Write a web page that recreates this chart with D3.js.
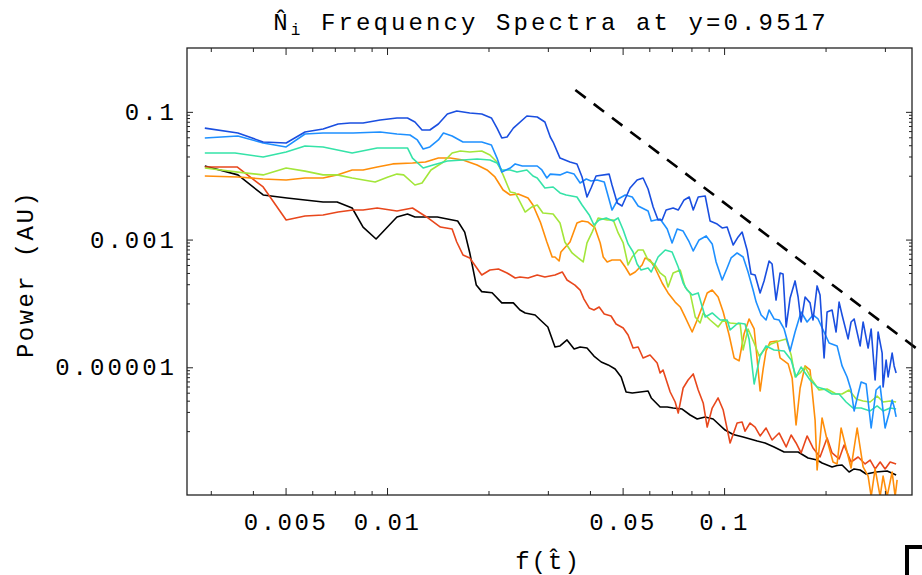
<!doctype html>
<html>
<head>
<script src="https://cdn.jsdelivr.net/npm/d3@7"></script>
<style>
  body { margin: 0; background: #fff; }
  text { font-family: "Liberation Mono", "DejaVu Sans Mono", monospace; }
</style>
</head>
<body>
<div id="chart"></div>
<script>
// spectra: frequency f and power P for every curve
var fBlack = [0.00288,0.00361,0.00429,0.00505,0.00646,0.00711,0.00788,0.00849,0.00928,0.0107,0.0115,0.0121,0.0141,0.0151,0.0162,0.0170,0.0176,0.0184,0.0191,0.0205,0.0219,0.0237,0.0248,0.0257,0.0275,0.0285,0.0300,0.0315,0.0326,0.0342,0.0359,0.0374,0.0392,0.0411,0.0432,0.0453,0.0475,0.0495,0.0512,0.0534,0.0564,0.0595,0.0608,0.0646,0.0678,0.0706,0.0751,0.0793,0.0832,0.0879,0.0928,0.1007,0.1064,0.1139,0.1254,0.1323,0.1407,0.1507,0.1658,0.1775,0.1888,0.1953,0.2091,0.2164,0.2239,0.2349,0.2431,0.2533,0.2639,0.2825,0.3046,0.3239];
var pBlack = [0.0142,0.0103,0.00499,0.00448,0.00388,0.00388,0.00312,0.00157,0.00102,0.00226,0.00252,0.00226,0.00226,0.0021,0.00195,0.00131,6.17e-4,1.94e-4,1.53e-4,1.47e-4,1.02e-4,1.02e-4,7.9e-5,7.09e-5,6.6e-5,5.5e-5,4.28e-5,2.08e-5,2.16e-5,2.68e-5,1.93e-5,2.08e-5,2.0e-5,1.5e-5,1.21e-5,1.09e-5,9.41e-6,7.05e-6,4.1e-6,3.96e-6,4.1e-6,4.25e-6,3.31e-6,2.39e-6,2.39e-6,2.3e-6,2.22e-6,1.79e-6,1.55e-6,1.67e-6,1.55e-6,1.04e-6,8.87e-7,8.1e-7,7.0e-7,6.53e-7,5.65e-7,4.72e-7,4.72e-7,3.8e-7,3.53e-7,3.17e-7,2.75e-7,2.9e-7,2.95e-7,2.29e-7,2.56e-7,2.46e-7,2.13e-7,2.29e-7,2.38e-7,2.06e-7];

var fRed = [0.00288,0.00359,0.00429,0.00502,0.00571,0.00646,0.00716,0.00793,0.00849,0.00935,0.0107,0.0119,0.0131,0.0144,0.0156,0.0161,0.0168,0.0176,0.0182,0.0191,0.0202,0.0214,0.0227,0.0240,0.0248,0.0262,0.0279,0.0294,0.0315,0.0331,0.0342,0.0361,0.0374,0.0384,0.0398,0.0411,0.0426,0.0441,0.0462,0.0478,0.0502,0.0519,0.0537,0.0556,0.0575,0.0603,0.0633,0.0646,0.0659,0.0692,0.0716,0.0731,0.0756,0.0782,0.0810,0.0838,0.0867,0.0891,0.0922,0.0960,0.0994,0.1042,0.1093,0.1131,0.1154,0.1194,0.1236,0.1279,0.1332,0.1388,0.1456,0.1528,0.1581,0.1635,0.1692,0.1763,0.1836,0.1926,0.2021,0.2091,0.2194,0.227,0.2381,0.2499,0.2621,0.2712,0.2806,0.2904,0.3004,0.3109,0.3239];
var pRed = [0.0137,0.0137,0.00666,0.00203,0.00234,0.00243,0.0027,0.0029,0.0029,0.00312,0.0028,0.00312,0.00226,0.00157,0.00146,9.17e-4,5.74e-4,5.15e-4,4.0e-4,2.79e-4,3.34e-4,3.46e-4,3.0e-4,2.5e-4,2.6e-4,2.5e-4,2.79e-4,2.6e-4,2.79e-4,3.11e-4,2.33e-4,1.94e-4,1.62e-4,1.17e-4,8.49e-5,7.9e-5,8.8e-5,6.84e-5,6.36e-5,4.77e-5,4.13e-5,3.2e-5,2.0e-5,2.08e-5,1.4e-5,1.56e-5,1.17e-5,8.15e-6,9.08e-6,4.1e-6,2.86e-6,1.92e-6,4.74e-6,6.33e-6,7.86e-6,4.41e-6,2.76e-6,1.16e-6,2.3e-6,3.31e-6,2.14e-6,6.53e-7,1.34e-6,1.39e-6,1.0e-6,1.34e-6,1.16e-6,8.4e-7,1.12e-6,7.27e-7,9.36e-7,5.65e-7,8.71e-7,6.53e-7,4.55e-7,8.4e-7,5.45e-7,3.94e-7,7.82e-7,4.55e-7,3.67e-7,6.07e-7,3.29e-7,3.94e-7,3.06e-7,3.53e-7,2.56e-7,3.29e-7,2.56e-7,3.29e-7,3.06e-7];

var fOrange = [0.00288,0.00361,0.00429,0.00502,0.00571,0.00646,0.00711,0.00788,0.00849,0.00935,0.0104,0.0119,0.0130,0.0142,0.0154,0.0168,0.0185,0.0198,0.0209,0.0221,0.0232,0.0245,0.0262,0.0271,0.0285,0.0298,0.0309,0.0315,0.0324,0.0328,0.0349,0.0366,0.0379,0.0395,0.0414,0.0429,0.0438,0.0450,0.0465,0.0492,0.0509,0.0526,0.0545,0.0571,0.0583,0.0603,0.0624,0.0655,0.0682,0.0716,0.0741,0.0766,0.0804,0.0832,0.0861,0.0891,0.0922,0.0960,0.0994,0.1035,0.1071,0.1108,0.1146,0.1186,0.1228,0.1254,0.1279,0.1306,0.1332,0.1369,0.1436,0.1466,0.1549,0.1592,0.1635,0.1681,0.1739,0.1799,0.1862,0.1888,0.1953,0.2021,0.2105,0.2164,0.2224,0.2301,0.2381,0.2482,0.2585,0.2675,0.2731,0.2806,0.2904,0.2963,0.3046,0.3152,0.3217,0.3261];
var pOrange = [0.0099,0.00956,0.00889,0.00858,0.00922,0.00922,0.0103,0.0123,0.0123,0.0137,0.0153,0.0158,0.0164,0.0189,0.0189,0.0176,0.0147,0.0123,0.00956,0.00598,0.00499,0.00517,0.00448,0.00348,0.00188,9.17e-4,5.34e-4,5.34e-4,4.62e-4,6.39e-4,9.17e-4,0.00182,0.00195,0.00188,0.00152,8.85e-4,5.34e-4,4.46e-4,4.79e-4,4.79e-4,3.72e-4,2.79e-4,3.11e-4,4.0e-4,5.15e-4,4.79e-4,3.59e-4,2.09e-4,1.46e-4,1.05e-4,8.8e-5,6.14e-5,3.57e-5,5.5e-5,8.8e-5,1.46e-4,1.62e-4,1.26e-4,7.35e-5,3.2e-5,1.4e-5,1.26e-5,3.32e-5,5.71e-5,3.98e-5,1.3e-5,4.25e-6,9.41e-6,1.8e-5,2.49e-5,2.58e-5,1.4e-5,1.13e-5,6.8e-6,1.25e-6,4.74e-6,1.05e-5,9.08e-6,1.49e-6,2.46e-7,1.61e-6,7.27e-7,3.29e-7,3.06e-7,1.12e-6,5.45e-7,2.65e-7,1.12e-6,2.75e-7,1.98e-7,9.5e-8,2.56e-7,9.5e-8,1.98e-7,9.5e-8,2.29e-7,9.5e-8,1.72e-7];

var fGreen = [0.00288,0.00361,0.00429,0.00502,0.00571,0.00646,0.00711,0.00788,0.00922,0.01007,0.0107,0.0112,0.0121,0.0127,0.0135,0.0147,0.0156,0.0165,0.0176,0.0191,0.0202,0.0212,0.0221,0.0232,0.0240,0.0248,0.0257,0.0269,0.0279,0.0290,0.0311,0.0326,0.0337,0.0354,0.0369,0.0382,0.0392,0.0406,0.0423,0.0450,0.0469,0.0485,0.0502,0.0519,0.0534,0.0556,0.0575,0.0595,0.0624,0.0646,0.0669,0.0682,0.0706,0.0741,0.0766,0.0793,0.0821,0.0849,0.0867,0.0909,0.0960,0.0994,0.1042,0.1116,0.1139,0.1178,0.1228,0.1271,0.1314,0.1378,0.1456,0.1528,0.1581,0.1624,0.1681,0.1739,0.1824,0.1913,0.2021,0.2149,0.2239,0.2349,0.2465,0.2585,0.2712,0.2845,0.2963,0.3109,0.3239];
var pGreen = [0.0132,0.0114,0.0103,0.0132,0.0118,0.0103,0.0103,0.00922,0.00798,0.00956,0.0106,0.0103,0.00716,0.0077,0.0123,0.0164,0.0227,0.0244,0.0235,0.0244,0.0211,0.0164,0.0103,0.00556,0.00537,0.00388,0.0027,0.00324,0.00348,0.00261,0.00252,0.00182,9.17e-4,6.17e-4,5.15e-4,4.46e-4,8.85e-4,0.00131,0.00218,0.00203,0.00203,0.00127,8.85e-4,4.0e-4,5.34e-4,6.87e-4,6.87e-4,4.79e-4,4.0e-4,3.0e-4,2.6e-4,1.81e-4,3.0e-4,3.34e-4,1.81e-4,1.46e-4,6.14e-5,4.94e-5,7.09e-5,5.5e-5,4.28e-5,5.5e-5,4.94e-5,4.77e-5,1.87e-5,3.98e-5,2.4e-5,1.5e-5,1.87e-5,2.32e-5,2.58e-5,2.78e-5,1.56e-5,7.05e-6,8.15e-6,1.01e-5,6.33e-6,4.41e-6,4.57e-6,3.82e-6,3.82e-6,4.41e-6,3.19e-6,2.97e-6,2.86e-6,3.55e-6,2.86e-6,2.97e-6,2.86e-6];

var fAqua = [0.00288,0.00354,0.00429,0.00502,0.00571,0.00646,0.00788,0.00935,0.0115,0.0119,0.0128,0.0137,0.0151,0.0168,0.0185,0.0202,0.0212,0.0219,0.0232,0.0243,0.0260,0.0271,0.0279,0.0294,0.0311,0.0326,0.0340,0.0366,0.0379,0.0398,0.0411,0.0426,0.0447,0.0469,0.0485,0.0502,0.0519,0.0537,0.0552,0.0567,0.0595,0.0608,0.0637,0.0669,0.0701,0.0731,0.0756,0.0777,0.0804,0.0838,0.0879,0.0922,0.0974,0.1021,0.1042,0.1101,0.1154,0.1186,0.1228,0.1279,0.1332,0.1407,0.1507,0.1581,0.1635,0.1692,0.1799,0.1888,0.198,0.2091,0.2194,0.2301,0.2414,0.255,0.2712,0.2845,0.2963,0.3109,0.3239];
var pAqua = [0.0227,0.0227,0.0196,0.0235,0.0292,0.0282,0.0227,0.0272,0.0272,0.0189,0.0132,0.0147,0.017,0.0176,0.0183,0.0176,0.0158,0.0123,0.0123,0.0114,0.0123,0.0099,0.00922,0.00642,0.00666,0.00537,0.00499,0.00464,0.00348,0.00243,0.00169,0.00203,0.00218,0.00195,0.00218,0.00141,8.54e-4,6.39e-4,4.15e-4,3.34e-4,3.59e-4,3.11e-4,5.34e-4,6.87e-4,6.39e-4,3.72e-4,2.09e-4,1.62e-4,1.36e-4,1.46e-4,6.14e-5,7.09e-5,5.5e-5,5.5e-5,3.84e-5,4.94e-5,4.77e-5,2.78e-5,5.48e-6,1.5e-5,2.16e-5,1.87e-5,1.8e-5,1.3e-5,7.05e-6,1.01e-5,6.33e-6,4.92e-6,4.57e-6,3.82e-6,3.82e-6,2.86e-6,2.3e-6,2.3e-6,2.07e-6,2.48e-6,2.07e-6,2.3e-6,2.22e-6];

var fSky = [0.00288,0.00361,0.00429,0.00502,0.00571,0.00646,0.00793,0.00954,0.0107,0.0117,0.0123,0.0128,0.0134,0.0142,0.0147,0.0156,0.0168,0.0191,0.0204,0.0212,0.0219,0.0232,0.0240,0.0252,0.0279,0.0288,0.0298,0.0305,0.0326,0.0342,0.0359,0.0374,0.0390,0.0403,0.0420,0.0441,0.0465,0.0485,0.0509,0.0534,0.0556,0.0595,0.0608,0.0646,0.0678,0.0701,0.0726,0.0756,0.0788,0.0810,0.0843,0.0885,0.0922,0.0947,0.0987,0.1021,0.1049,0.1093,0.1139,0.1178,0.1219,0.1245,0.1288,0.1332,0.136,0.1407,0.1456,0.1507,0.157,0.1624,0.1692,0.1763,0.1836,0.19,0.198,0.2049,0.2164,0.2239,0.2317,0.2381,0.2431,0.2499,0.255,0.2639,0.2731,0.2825,0.2904,0.3004,0.3088,0.3152,0.3195,0.3239];
var pSky = [0.039,0.0419,0.0325,0.0282,0.045,0.0467,0.0467,0.0484,0.045,0.0434,0.0363,0.0262,0.0282,0.0363,0.0467,0.0419,0.0337,0.0337,0.0303,0.0189,0.0114,0.0132,0.0153,0.0142,0.0142,0.0123,0.00922,0.0106,0.0103,0.0114,0.0106,0.0077,0.00889,0.00827,0.00858,0.00798,0.0029,0.00432,0.00499,0.00464,0.00336,0.0028,0.00195,0.0021,0.00146,8.85e-4,0.00146,0.00136,9.17e-4,6.63e-4,9.86e-4,0.00114,8.54e-4,4.46e-4,2.33e-4,3.59e-4,5.15e-4,6.17e-4,5.34e-4,3.11e-4,1.62e-4,1.05e-4,6.6e-5,5.5e-5,7.9e-5,5.71e-5,5.5e-5,3.98e-5,1.8e-5,3.57e-5,7.35e-5,5.12e-5,6.6e-5,5.71e-5,3.57e-5,2.4e-5,2.16e-5,1.05e-5,7.05e-6,4.41e-6,2.07e-6,3.82e-6,5.89e-6,5.48e-6,1.12e-6,4.41e-6,5.1e-6,1.12e-6,1.92e-6,3.08e-6,2.39e-6,1.67e-6];

var fBlue = [0.00288,0.00361,0.00429,0.00502,0.00571,0.00646,0.00716,0.00777,0.00849,0.00954,0.0107,0.0115,0.0121,0.0127,0.0134,0.0142,0.0151,0.0161,0.0176,0.0191,0.0204,0.0212,0.0219,0.0227,0.0237,0.0260,0.0279,0.0294,0.0305,0.0311,0.0326,0.0349,0.0366,0.0379,0.0392,0.0403,0.0417,0.0456,0.0465,0.0482,0.0498,0.0526,0.0552,0.0575,0.0595,0.0616,0.0637,0.0655,0.0673,0.0706,0.0731,0.0761,0.0788,0.0810,0.0838,0.0879,0.0909,0.0954,0.0987,0.1021,0.1064,0.1101,0.1131,0.117,0.1202,0.1236,0.1279,0.1314,0.136,0.1388,0.1426,0.1466,0.1496,0.1528,0.157,0.1624,0.1658,0.1692,0.1739,0.1799,0.1836,0.1888,0.1926,0.198,0.2021,0.2091,0.2149,0.2194,0.2239,0.2333,0.2381,0.2431,0.2533,0.2585,0.2675,0.2731,0.2806,0.2864,0.2944,0.2963,0.3025,0.3067,0.3152,0.3195,0.3239];
var pBlue = [0.0556,0.0467,0.0337,0.0325,0.0484,0.0539,0.0646,0.067,0.067,0.0746,0.0802,0.0802,0.0694,0.052,0.052,0.0646,0.0927,0.103,0.096,0.0927,0.0802,0.0556,0.039,0.0404,0.0556,0.0862,0.0831,0.0694,0.0404,0.0337,0.0189,0.0164,0.0153,0.00956,0.00464,0.00642,0.0099,0.0106,0.00716,0.00374,0.00336,0.00642,0.00858,0.00922,0.0062,0.00324,0.00203,0.00203,0.0029,0.00312,0.0029,0.00417,0.00464,0.0029,0.00464,0.00481,0.00195,0.00175,0.00152,0.00157,8.23e-4,0.0011,0.00131,6.87e-4,2.89e-4,2.79e-4,1.46e-4,2.25e-4,4.62e-4,4.15e-4,1.13e-4,3.0e-4,2.89e-4,4.28e-5,1.22e-4,2.25e-4,1.26e-4,5.12e-5,1.26e-4,1.02e-4,5.5e-5,1.88e-4,1.36e-4,1.4e-5,7.35e-5,7.9e-5,3.57e-5,1.05e-4,6.6e-5,2.78e-5,5.12e-5,5.71e-5,2.16e-5,5.12e-5,2.0e-5,3.98e-5,6.33e-6,3.57e-5,1.67e-5,4.92e-6,1.3e-5,7.05e-6,1.67e-5,1.05e-5,8.15e-6];

// f^-4 guide line
var slopeF = [0.0362, 0.375];
var slopeP = [0.22, 1.91e-5];

// ticks
var xMajor = [0.005, 0.01, 0.05, 0.1];
var xLabels = ["0.005", "0.01", "0.05", "0.1"];
var xMinor = [0.003,0.004,0.006,0.007,0.008,0.009,0.02,0.03,0.04,0.06,0.07,0.08,0.09,0.2,0.3];
var yMajor = [0.1, 0.001, 0.00001];
var yLabels = ["0.1", "0.001", "0.00001"];
var yMinor = [0.09,0.08,0.07,0.06,0.05,0.04,0.03,0.02,0.01,
              0.0009,0.0008,0.0007,0.0006,0.0005,0.0004,0.0003,0.0002,0.0001,
              0.000009,0.000008,0.000007,0.000006,0.000005,0.000004,0.000003,0.000002,0.000001];

var curves = [
  {f: fBlack,  p: pBlack,  color: "#000000"},
  {f: fRed,    p: pRed,    color: "#e8471c"},
  {f: fOrange, p: pOrange, color: "#ff8e0a"},
  {f: fGreen,  p: pGreen,  color: "#a3e63a"},
  {f: fAqua,   p: pAqua,   color: "#35e3a8"},
  {f: fSky,    p: pSky,    color: "#1e90ff"},
  {f: fBlue,   p: pBlue,   color: "#1a4fe0"}
];

var margin = {top: 48, right: 10, bottom: 80, left: 187},
    width = 725,
    height = 447;

var svg = d3.select("#chart").append("svg")
    .attr("width", 922)
    .attr("height", 575);

var g = svg.append("g")
    .attr("transform", "translate(" + margin.left + "," + margin.top + ")");

var x = d3.scaleLog().domain([0.00255, 0.361]).range([0, width]);
var y = d3.scaleLog().domain([1e-7, 1]).range([height, 0]);

// clip for the curves
g.append("clipPath").attr("id", "plotclip")
  .append("rect").attr("width", width).attr("height", height);

var line = d3.line()
    .x(function(d) { return x(d[0]); })
    .y(function(d) { return y(d[1]); });

g.append("g").attr("clip-path", "url(#plotclip)")
  .selectAll("path")
  .data(curves)
  .enter().append("path")
    .attr("d", function(c) { return line(d3.zip(c.f, c.p)); })
    .attr("fill", "none")
    .attr("stroke", function(c) { return c.color; })
    .attr("stroke-width", 1.6)
    .attr("stroke-linejoin", "round");

// dashed slope line
g.append("path")
  .attr("d", line(d3.zip(slopeF, slopeP)))
  .attr("fill", "none")
  .attr("stroke", "#000")
  .attr("stroke-width", 2.6)
  .attr("stroke-dasharray", "13,10");

// axes, ticks pointing inward on all four sides
function styleAxis(sel, spacing) {
  sel.select(".domain").remove();
  sel.attr("font-family", null).attr("font-size", null);
  sel.selectAll("line").attr("stroke", "#222").attr("stroke-width", 1);
  sel.selectAll("text")
    .style("font-family", "'Liberation Mono', monospace")
    .style("font-size", "24px")
    .style("letter-spacing", (spacing || 2.4) + "px")
    .attr("fill", "#000");
}

g.append("g").attr("transform", "translate(0," + height + ")")
  .call(d3.axisBottom(x).tickValues(xMinor).tickSize(-4).tickFormat(""))
  .call(styleAxis);
g.append("g").attr("transform", "translate(0," + height + ")")
  .call(d3.axisBottom(x).tickValues(xMajor).tickSize(-7).tickPadding(18)
        .tickFormat(function(d, i) { return xLabels[i]; }))
  .call(styleAxis, 2.5);
g.append("g")
  .call(d3.axisTop(x).tickValues(xMinor).tickSize(-4).tickFormat(""))
  .call(styleAxis);
g.append("g")
  .call(d3.axisTop(x).tickValues(xMajor).tickSize(-7).tickFormat(""))
  .call(styleAxis);

g.append("g")
  .call(d3.axisLeft(y).tickValues(yMinor).tickSize(-3).tickFormat(""))
  .call(styleAxis);
g.append("g")
  .call(d3.axisLeft(y).tickValues(yMajor).tickSize(-6).tickPadding(10)
        .tickFormat(function(d, i) { return yLabels[i]; }))
  .call(styleAxis, 3.0);
g.append("g").attr("transform", "translate(" + width + ",0)")
  .call(d3.axisRight(y).tickValues(yMinor).tickSize(-3).tickFormat(""))
  .call(styleAxis);
g.append("g").attr("transform", "translate(" + width + ",0)")
  .call(d3.axisRight(y).tickValues(yMajor).tickSize(-6).tickFormat(""))
  .call(styleAxis);

// frame
g.append("rect")
  .attr("width", width)
  .attr("height", height)
  .attr("fill", "none")
  .attr("stroke", "#222")
  .attr("stroke-width", 1.3);

// title
var title = svg.append("text")
  .attr("x", 551)
  .attr("y", 30)
  .attr("text-anchor", "middle")
  .style("font-size", "24px")
  .style("letter-spacing", "3.1px");
title.append("tspan").text("N\u0302");
title.append("tspan").attr("dy", 5).style("font-size", "16px").text("i");
title.append("tspan").attr("dy", -5).text(" Frequency Spectra at y=0.9517");

// axis titles
svg.append("text")
  .attr("x", 548)
  .attr("y", 569)
  .attr("text-anchor", "middle")
  .style("font-size", "24px")
  .style("letter-spacing", "2px")
  .text("f(t\u0302)");

svg.append("text")
  .attr("transform", "translate(33,274) rotate(-90)")
  .attr("text-anchor", "middle")
  .style("font-size", "24px")
  .style("letter-spacing", "2.4px")
  .text("Power (AU)");

// corner of the next panel peeking in at the bottom right
svg.append("path")
  .attr("d", "M907,575 V547 H922")
  .attr("fill", "none")
  .attr("stroke", "#000")
  .attr("stroke-width", 4);
</script>
</body>
</html>
